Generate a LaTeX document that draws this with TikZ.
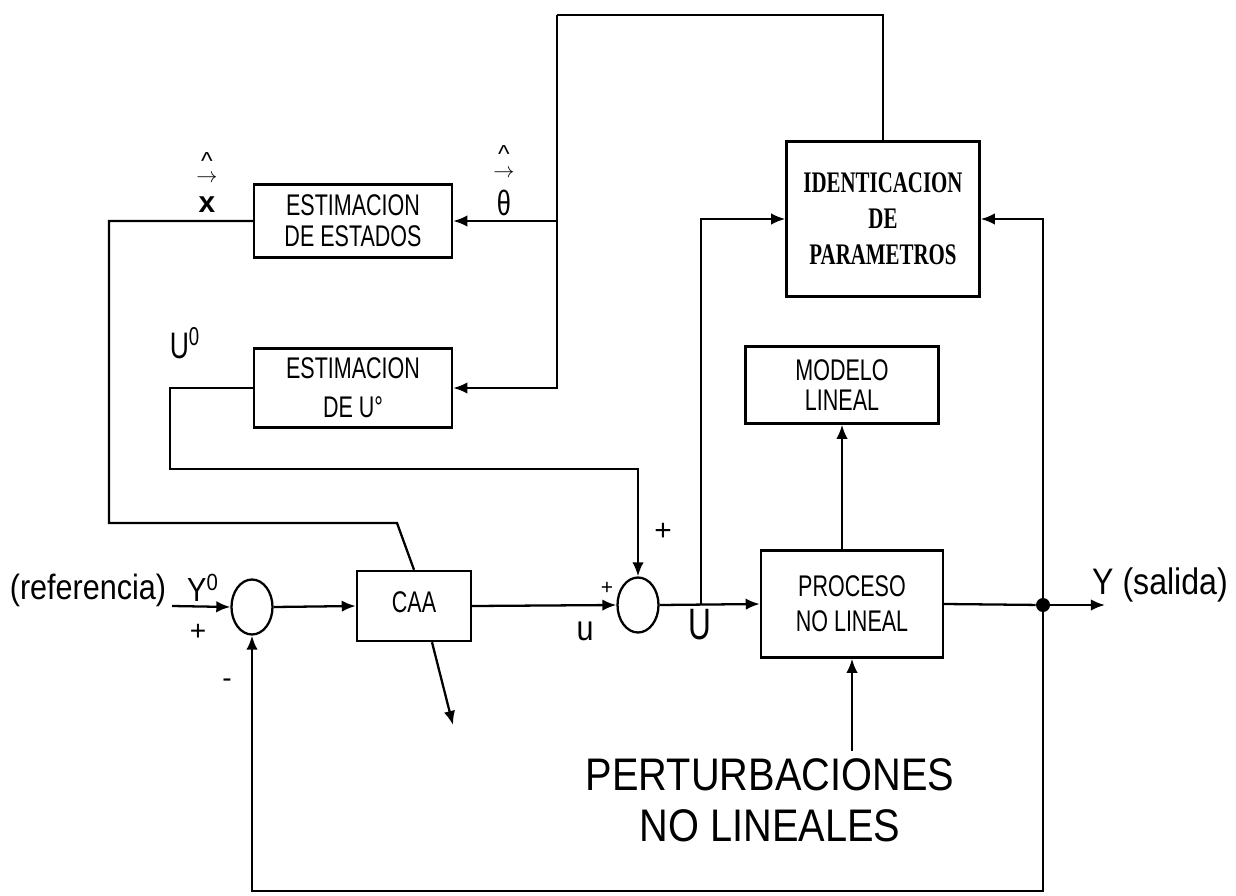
\documentclass[tikz,border=0pt]{standalone}
\usepackage{fontspec}
\setmainfont{Liberation Sans}
\newfontfamily\condsans[FakeStretch=0.72]{Liberation Sans}
\newfontfamily\midsans[FakeStretch=0.87]{Liberation Sans}
\newfontfamily\condserif[FakeStretch=0.7]{Liberation Serif}
\usepackage{tikz}
\usetikzlibrary{arrows.meta, positioning, shapes.geometric}

\begin{document}
\begin{tikzpicture}[
    x=0.02cm, y=-0.02cm,
    every node/.style={font=\condsans\fontsize{17}{17.5}\selectfont},
    blok/.style={draw, line width=1.4pt, align=center, inner sep=2pt},
    suma/.style={draw, ellipse, line width=1.3pt, minimum width=0.82cm,
                 minimum height=1.1cm, inner sep=0pt},
    lbl/.style={inner sep=0pt},
    hatlbl/.style={inner sep=0pt, font=\fontsize{14}{14}\selectfont},
    veclbl/.style={inner sep=0pt, font=\fontsize{13}{13}\selectfont},
    conn/.style={line width=1.3pt},
    arr/.style={-{Latex[length=8pt,width=6.5pt]}, line width=1.3pt},
]
    \useasboundingbox (0,0) rectangle (1236,895);

    % estimation blocks on the left
    \node[blok, minimum width=3.96cm, minimum height=1.46cm] (estx) at (353,221)
        {ESTIMACION\\DE ESTADOS};
    \node[blok, minimum width=3.96cm, minimum height=1.58cm] (estu) at (353,388)
        {ESTIMACION\\[4.5pt]DE U°};

    % identification and model blocks
    \node[blok, minimum width=3.86cm, minimum height=3.1cm,
          font=\condserif\bfseries\fontsize{17}{20.5}\selectfont] (ident) at (883,219)
        {IDENTICACION\\DE\\PARAMETROS};
    \node[blok, minimum width=3.86cm, minimum height=1.54cm] (modelo) at (842,385)
        {MODELO\\LINEAL};

    % main loop
    \node[blok, minimum width=3.64cm, minimum height=2.14cm,
          font=\condsans\fontsize{17}{20}\selectfont] (proceso) at (852,604)
        {PROCESO\\NO LINEAL};
    \node[blok, minimum width=2.28cm, minimum height=1.4cm] (caa) at (414,606)
        {\raisebox{5pt}{CAA}};
    \node[suma] (sum1) at (252,607) {};
    \node[suma] (sum2) at (638,605) {};
    \node[circle, fill, inner sep=0pt, minimum size=0.28cm] (nodo) at (1043,605) {};

    % labels
    \node[lbl, font=\midsans\fontsize{20}{20}\selectfont] (ref) at (88,590) {(referencia)};
    \node[lbl, font=\midsans\fontsize{19}{19}\selectfont] (yref) at (203,588) {Y\textsuperscript{0}};
    \node[lbl, font=\fontsize{16}{16}\selectfont] (mas1) at (198,632) {+};
    \node[lbl, font=\fontsize{16}{16}\selectfont] (menos1) at (227,683) {-};
    \node[lbl, font=\fontsize{12}{12}\selectfont] (mas2) at (607,588) {+};
    \node[lbl, font=\fontsize{17}{17}\selectfont] (mas3) at (663,532) {+};
    \node[lbl, font=\midsans\fontsize{20}{20}\selectfont] (ulab) at (585,631) {u};
    \node[lbl, font=\condsans\fontsize{25}{25}\selectfont] (Ulab) at (700,625) {U};
    \node[lbl, font=\condsans\fontsize{21}{21}\selectfont] (U0lab) at (185,343) {U\textsuperscript{0}};
    \node[lbl, font=\midsans\fontsize{21}{21}\selectfont] (ysal) at (1160,585) {Y (salida)};
    \node[lbl, align=center, inner sep=4pt,
          font=\midsans\fontsize{26}{29}\selectfont] (pert) at (770,800)
        {PERTURBACIONES\\NO LINEALES};

    % estimate of the state vector and of the parameters
    \node[hatlbl] (xcirc) at (207,161) {\textasciicircum};
    \node[veclbl] (xvec) at (207,179) {$\rightarrow$};
    \node[lbl, font=\bfseries\fontsize{17}{17}\selectfont] (xlet) at (207,205) {x};
    \node[hatlbl] (thcirc) at (504,154) {\textasciicircum};
    \node[veclbl] (thvec) at (504,174) {$\rightarrow$};
    \node[lbl, font=\condsans\fontsize{20}{20}\selectfont] (thlet) at (504,203) {θ};

    % free ends
    \coordinate (topl) at (557,15);
    \coordinate (xlow) at (109,523);
    \coordinate (xbend) at (397,523);
    \coordinate (ulow) at (170,469);
    \coordinate (refin) at (172,606);
    \coordinate (tapu) at (701,605);
    \coordinate (salida) at (1105,605);
    \coordinate (base) at (640,891);
    \coordinate (caaout) at (453,725);

    % parameter feedback
    \draw[conn] (ident.north) |- (topl);
    \draw[arr] (topl) |- (estu.east);
    \draw[arr] (topl |- estx.east) -- (estx.east);
    \draw[conn] (estx.west) -| (xlow) -- (xbend) -- (caa.north);
    \draw[arr] (estu.west) -| (ulow) -| (sum2.north);

    % forward path
    \draw[arr] (refin) -- (sum1.west);
    \draw[arr] (sum1.east) -- (caa.west);
    \draw[arr] (caa.east) -- (sum2.west);
    \draw[arr] (sum2.east) -- (proceso.west);
    \draw[arr] (tapu) |- (ident.west);
    \draw[arr] (proceso.north -| modelo.south) -- (modelo.south);
    \draw[conn] (proceso.east) -- (nodo);
    \draw[arr] (nodo) -- (salida);
    \draw[arr] (nodo) |- (ident.east);
    \draw[arr] (nodo) |- (base) -| (sum1.south);
    \draw[arr] (pert.north -| proceso.south) -- (proceso.south);
    \draw[arr] ([xshift=0.36cm]caa.south) -- (caaout);
\end{tikzpicture}
\end{document}
